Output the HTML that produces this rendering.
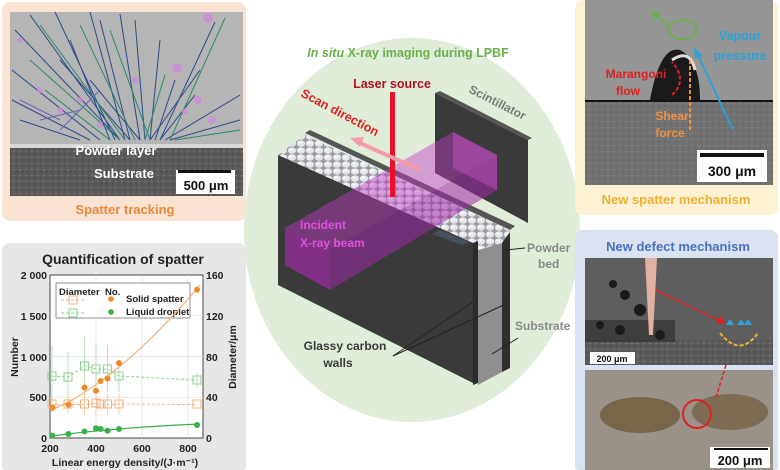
<!DOCTYPE html>
<html><head><meta charset="utf-8"><style>
html,body{margin:0;padding:0;background:#fff;}
svg{display:block;font-family:"Liberation Sans",Arial,sans-serif;}
</style></head><body>
<svg width="780" height="470" viewBox="0 0 780 470" xmlns="http://www.w3.org/2000/svg">
<defs>
<pattern id="pw" width="9" height="7" patternUnits="userSpaceOnUse">
<rect width="9" height="7" fill="#9a9aa0"/>
<ellipse cx="4" cy="3.5" rx="4.2" ry="3.2" fill="#e4e6ea"/>
<ellipse cx="3" cy="2.5" rx="2" ry="1.3" fill="#f6f7f9"/>
</pattern>
<pattern id="noise" width="6" height="6" patternUnits="userSpaceOnUse">
<rect width="6" height="6" fill="#5a5a5a"/>
<rect x="1" y="1" width="2" height="1" fill="#777"/><rect x="4" y="3" width="1" height="2" fill="#444"/>
</pattern>
</defs>
<ellipse cx="412" cy="230" rx="168" ry="192" fill="#e0eed9"/>
<text x="408" y="57" text-anchor="middle" font-size="12.5" font-weight="bold" fill="#6ab04c"><tspan font-style="italic">In situ</tspan> X-ray imaging during LPBF</text>

<polygon points="435,93 528,140 528,223 435,173" fill="#3a3a3a"/>
<polygon points="435,93 440,91 532,138 528,140" fill="#555"/>
<text x="468" y="92" font-size="12" font-weight="bold" fill="#7a7a7a" transform="rotate(27 468 92)">Scintillator</text>

<polygon points="305,133 310,130 515,226 510,230" fill="#555"/>
<polygon points="305,135 510,230 510,245 473,245 278,155" fill="url(#pw)"/>
<polygon points="278,155 473,243 473,383 278,285" fill="#3a3a3a"/>
<polygon points="473,243 478,241 478,383 473,385" fill="#2c2c2c"/>
<polygon points="478,250 502,243 502,372 478,385" fill="#8f8f8f"/>
<polygon points="478,250 502,243 504,228 480,236" fill="url(#pw)"/>
<polygon points="502,243 510,232 510,368 502,372" fill="#2e2e2e"/>

<polygon points="285,228 453,132 497,155 330,250" fill="#c23cc8" opacity="0.45"/>
<polygon points="285,228 330,250 330,290 285,265" fill="#b02ab8" opacity="0.6"/>
<polygon points="330,250 497,155 497,190 330,290" fill="#a02aa8" opacity="0.55"/>
<polygon points="453,132 497,155 497,190 453,168" fill="#c050c0" opacity="0.5"/>
<polygon points="440,230 470,242 462,245 432,234" fill="#4a5a6a" opacity="0.7"/>

<rect x="390" y="92" width="5" height="105" fill="#e8102a"/>
<line x1="420" y1="170" x2="360" y2="143" stroke="#f59aa8" stroke-width="4"/>
<polygon points="350,138 364,137 360,147" fill="#f59aa8"/>
<text x="392" y="88" text-anchor="middle" font-size="12.5" font-weight="bold" fill="#b01020">Laser source</text>
<text x="300" y="96" font-size="12.5" font-weight="bold" fill="#e02020" transform="rotate(28 300 96)">Scan direction</text>
<text x="300" y="229" font-size="12" font-weight="bold" fill="#e050e0">Incident</text>
<text x="300" y="247" font-size="12" font-weight="bold" fill="#e050e0">X-ray beam</text>

<text x="527" y="252" font-size="12" font-weight="bold" fill="#888">Powder</text>
<text x="538" y="268" font-size="12" font-weight="bold" fill="#888">bed</text>
<line x1="505" y1="250" x2="525" y2="248" stroke="#222"/>
<text x="515" y="330" font-size="12" font-weight="bold" fill="#888">Substrate</text>
<line x1="492" y1="354" x2="518" y2="338" stroke="#222"/>
<text x="345" y="350" text-anchor="middle" font-size="12" font-weight="bold" fill="#3a3a3a">Glassy carbon</text>
<text x="338" y="367" text-anchor="middle" font-size="12" font-weight="bold" fill="#3a3a3a">walls</text>
<line x1="393" y1="356" x2="473" y2="302" stroke="#222"/>
<line x1="393" y1="356" x2="508" y2="303" stroke="#222"/>

<rect x="2" y="2" width="244" height="219" rx="8" fill="#fbe3d4"/>
<rect x="10" y="12" width="233" height="134" fill="#b5b5b5"/>
<rect x="10" y="144" width="233" height="52" fill="url(#noise)"/>
<rect x="10" y="144" width="233" height="4" fill="#d8d8d8"/>
<g stroke-width="1" fill="none">
<path d="M120 140 L15 30 M120 140 L30 15 M115 140 L55 12 M110 140 L70 40 M125 140 L90 12 M130 140 L100 20 M140 140 L120 14 M145 140 L135 20 M150 140 L160 40 M155 140 L175 80 M160 140 L215 22 M165 140 L240 95 M170 140 L240 120 M150 140 L200 70 M100 140 L12 70 M90 140 L12 100 M80 140 L20 120 M130 140 L60 60 M140 140 L90 80 M160 140 L195 95" stroke="#2b4a8a"/>
<path d="M125 140 L40 25 M135 140 L80 25 M150 140 L110 30 M170 140 L225 18 M175 140 L240 130 M145 140 L165 75 M120 140 L30 60 M110 140 L45 90" stroke="#2a8a6a"/>
<path d="M60 130 L100 90 M40 120 L80 110 M20 100 L60 120" stroke="#7060c0"/>
</g>
<g fill="#d08ad8" opacity="0.8">
<circle cx="208" cy="18" r="5"/><circle cx="177" cy="68" r="5"/><circle cx="198" cy="100" r="4"/><circle cx="212" cy="120" r="4"/><circle cx="135" cy="80" r="3"/><circle cx="60" cy="110" r="3"/><circle cx="80" cy="100" r="3"/><circle cx="40" cy="90" r="3"/><circle cx="100" cy="125" r="3"/><circle cx="20" cy="40" r="3"/><circle cx="185" cy="112" r="3"/>
</g>
<text x="116" y="155" text-anchor="middle" font-size="13" font-weight="bold" fill="#fff">Powder layer</text>
<text x="124" y="178" text-anchor="middle" font-size="13" font-weight="bold" fill="#fff">Substrate</text>
<rect x="176" y="170" width="59" height="24" fill="#fff"/>
<rect x="178" y="170" width="53" height="3" fill="#111"/>
<text x="206" y="190" text-anchor="middle" font-size="13" font-weight="bold" fill="#111">500 μm</text>
<text x="125" y="214" text-anchor="middle" font-size="13" font-weight="bold" fill="#e8883a">Spatter tracking</text>

<rect x="2" y="243" width="244" height="230" rx="8" fill="#e7e7e7"/>
<text x="123" y="264" text-anchor="middle" font-size="14" font-weight="bold" fill="#222">Quantification of spatter</text>
<rect x="50" y="275" width="153" height="163" fill="#fff" stroke="#444"/>
<g stroke="#ddd" stroke-width="0.7">
<line x1="96" y1="275" x2="96" y2="438"/><line x1="142" y1="275" x2="142" y2="438"/><line x1="188" y1="275" x2="188" y2="438"/>
<line x1="50" y1="397.2" x2="203" y2="397.2"/><line x1="50" y1="356.5" x2="203" y2="356.5"/><line x1="50" y1="315.7" x2="203" y2="315.7"/>
</g>
<g font-size="10.5" font-weight="bold" fill="#222">
<text x="47" y="279" text-anchor="end">2 000</text>
<text x="47" y="320" text-anchor="end">1 500</text>
<text x="47" y="361" text-anchor="end">1 000</text>
<text x="47" y="401" text-anchor="end">500</text>
<text x="47" y="442" text-anchor="end">0</text>
<text x="206" y="279">160</text><text x="206" y="320">120</text><text x="206" y="361">80</text><text x="206" y="401">40</text><text x="206" y="442">0</text>
<text x="50" y="452" text-anchor="middle">200</text><text x="96" y="452" text-anchor="middle">400</text><text x="142" y="452" text-anchor="middle">600</text><text x="188" y="452" text-anchor="middle">800</text>
<text x="125" y="466" text-anchor="middle">Linear energy density/(J·m⁻¹)</text>
<text transform="translate(18 357) rotate(-90)" text-anchor="middle">Number</text>
<text transform="translate(236 357) rotate(-90)" text-anchor="middle">Diameter/μm</text>
</g>
<rect x="56" y="283" width="134" height="35" fill="#fff" stroke="#777" stroke-width="0.8"/>
<g font-size="9.5" font-weight="bold" fill="#222">
<text x="59" y="295">Diameter</text><text x="105" y="295">No.</text>
<text x="126" y="302">Solid spatter</text><text x="126" y="315">Liquid droplet</text>
</g>
<g fill="none" stroke-width="1">
<line x1="61" y1="300" x2="85" y2="300" stroke="#f5b07a" stroke-dasharray="3 2"/><rect x="69" y="296" width="8" height="8" stroke="#f5b07a"/>
<line x1="61" y1="313" x2="85" y2="313" stroke="#8fd08f" stroke-dasharray="3 2"/><rect x="69" y="309" width="8" height="8" stroke="#8fd08f"/>
</g>
<circle cx="111" cy="299" r="2.8" fill="#ef8a2a"/><circle cx="111" cy="312" r="2.8" fill="#3ab04a"/>
<g stroke="#a8dca8" stroke-width="0.8">
<line x1="52" y1="345" x2="52" y2="405"/><line x1="68" y1="352" x2="68" y2="400"/><line x1="84.5" y1="336" x2="84.5" y2="395"/><line x1="96" y1="345" x2="96" y2="390"/><line x1="107.5" y1="345" x2="107.5" y2="392"/><line x1="119" y1="360" x2="119" y2="392"/><line x1="197" y1="373" x2="197" y2="388"/>
</g>
<g stroke="#f8c8a0" stroke-width="0.8">
<line x1="52" y1="397" x2="52" y2="412"/><line x1="68" y1="396" x2="68" y2="414"/><line x1="84.5" y1="394" x2="84.5" y2="415"/><line x1="96" y1="392" x2="96" y2="416"/><line x1="107.5" y1="394" x2="107.5" y2="415"/><line x1="119" y1="393" x2="119" y2="414"/>
</g>
<polyline points="52,376 68,377 84.5,366 96,369 107.5,369 119,376 197,380" fill="none" stroke="#8fd08f" stroke-dasharray="3 2"/>
<polyline points="52,404.6 68,404.6 84.5,404.6 96,403.5 100.6,404.6 107.5,404.6 119,404 197,404.6" fill="none" stroke="#f5b07a" stroke-dasharray="3 2"/>
<g fill="none" stroke="#8fd08f"><rect x="48" y="372" width="8" height="8"/><rect x="64" y="373" width="8" height="8"/><rect x="80.5" y="362" width="8" height="8"/><rect x="92" y="365" width="8" height="8"/><rect x="103.5" y="365" width="8" height="8"/><rect x="115" y="372" width="8" height="8"/><rect x="193" y="376" width="8" height="8"/></g>
<g fill="none" stroke="#f5b07a"><rect x="48" y="400" width="8" height="8"/><rect x="64" y="400" width="8" height="8"/><rect x="80.5" y="400" width="8" height="8"/><rect x="92" y="399" width="8" height="8"/><rect x="97" y="400" width="8" height="8"/><rect x="103.5" y="400" width="8" height="8"/><rect x="115" y="400" width="8" height="8"/><rect x="193" y="400" width="8" height="8"/></g>
<path d="M52 410 Q120 380 200 285" fill="none" stroke="#f5b07a" stroke-width="1.2"/>
<path d="M52 436 Q110 428 200 424" fill="none" stroke="#3ab04a" stroke-width="1.2"/>
<g fill="#ef8a2a"><circle cx="52.3" cy="407.8" r="3"/><circle cx="68.4" cy="404.6" r="3"/><circle cx="84.5" cy="387.5" r="3"/><circle cx="96" cy="390.7" r="3"/><circle cx="100.6" cy="381" r="3"/><circle cx="107.5" cy="378.5" r="3"/><circle cx="119" cy="363" r="3"/><circle cx="197" cy="289.7" r="3"/></g>
<g fill="#3ab04a"><circle cx="52.3" cy="435.5" r="3"/><circle cx="68.4" cy="434" r="3"/><circle cx="84.5" cy="431.5" r="3"/><circle cx="96" cy="428.2" r="3"/><circle cx="100.6" cy="429" r="3"/><circle cx="107.5" cy="430.7" r="3"/><circle cx="119" cy="429" r="3"/><circle cx="197" cy="425" r="3"/></g>

<rect x="575" y="0" width="203" height="215" rx="8" fill="#fdf2d4"/>
<rect x="585" y="0" width="188" height="185" fill="#959595"/>
<rect x="585" y="102" width="188" height="83" fill="url(#noise)" opacity="0.6"/>
<rect x="585" y="100" width="188" height="2" fill="#111"/>
<path d="M650 100 Q660 45 680 50 Q700 60 700 100 Z" fill="#1a1a1a"/>
<path d="M672 60 Q690 48 695 70" stroke="#ddd" stroke-width="3" fill="none"/>
<path d="M668 32 Q668 20 685 20 Q700 22 695 35 Q680 45 668 32 Z" fill="none" stroke="#6ab04c" stroke-width="2"/>
<line x1="668" y1="25" x2="655" y2="15" stroke="#6ab04c" stroke-width="2"/>
<polygon points="650,10 660,13 655,20" fill="#6ab04c"/>
<line x1="733" y1="130" x2="698" y2="55" stroke="#2aa0d8" stroke-width="2"/>
<polygon points="694,47 703,56 695,58" fill="#2aa0d8"/>
<line x1="690" y1="130" x2="690" y2="60" stroke="#f09040" stroke-width="2" stroke-dasharray="4 2"/>
<path d="M672 95 Q688 80 672 62" stroke="#e02020" stroke-width="2" stroke-dasharray="4 2" fill="none"/>
<text x="740" y="40" text-anchor="middle" font-size="12.5" font-weight="bold" fill="#2aa0d8">Vapour</text>
<text x="740" y="60" text-anchor="middle" font-size="12.5" font-weight="bold" fill="#2aa0d8">pressure</text>
<text x="636" y="78" text-anchor="middle" font-size="12" font-weight="bold" fill="#e02020">Marangoni</text>
<text x="628" y="95" text-anchor="middle" font-size="12" font-weight="bold" fill="#e02020">flow</text>
<text x="672" y="120" text-anchor="middle" font-size="12" font-weight="bold" fill="#f09040">Shear</text>
<text x="670" y="137" text-anchor="middle" font-size="12" font-weight="bold" fill="#f09040">force</text>
<rect x="697" y="150" width="70" height="32" fill="#fff"/>
<rect x="700" y="153" width="64" height="4" fill="#111"/>
<text x="732" y="176" text-anchor="middle" font-size="14" font-weight="bold" fill="#111">300 μm</text>
<text x="676" y="204" text-anchor="middle" font-size="13" font-weight="bold" fill="#f2b030">New spatter mechanism</text>

<rect x="575" y="230" width="203" height="243" rx="8" fill="#dae2f2"/>
<text x="678" y="251" text-anchor="middle" font-size="13" font-weight="bold" fill="#4a70c0">New defect mechanism</text>
<rect x="585" y="258" width="188" height="107" fill="#5e5e5e"/>
<rect x="585" y="340" width="188" height="25" fill="url(#noise)"/>
<rect x="585" y="320" width="90" height="22" fill="#2a2a2a" opacity="0.6"/>
<g fill="#1a1a1a"><circle cx="613" cy="284" r="4"/><circle cx="625" cy="295" r="5"/><circle cx="640" cy="310" r="6"/><circle cx="600" cy="325" r="4"/><circle cx="620" cy="330" r="5"/><circle cx="660" cy="335" r="5"/></g>
<polygon points="645,258 657,258 653,335 649,335" fill="#e0b0a0"/>
<line x1="656" y1="290" x2="722" y2="322" stroke="#e02020" stroke-width="1.5"/>
<polygon points="726,324 716,323 720,316" fill="#e02020"/>
<path d="M720 333 Q740 358 758 333" fill="none" stroke="#f0b030" stroke-width="2" stroke-dasharray="4 2"/>
<g fill="#30a0e0"><path d="M726 325 l4 -6 l4 6 z"/><path d="M737 325 l4 -6 l4 6 z"/><path d="M744 325 l4 -6 l4 6 z"/></g>
<rect x="590" y="352" width="45" height="12" fill="#fff"/>
<text x="612" y="362" text-anchor="middle" font-size="9" font-weight="bold" fill="#111">200 μm</text>
<rect x="585" y="370" width="188" height="100" fill="#9a9288"/>
<ellipse cx="640" cy="415" rx="40" ry="18" fill="#6a5230" opacity="0.7"/>
<ellipse cx="730" cy="412" rx="38" ry="18" fill="#6a5230" opacity="0.6"/>
<line x1="726" y1="365" x2="716" y2="397" stroke="#e02020" stroke-width="1.5" stroke-dasharray="4 2"/>
<circle cx="697" cy="414" r="14" fill="none" stroke="#e02020" stroke-width="2"/>
<rect x="710" y="447" width="60" height="21" fill="#fff"/>
<rect x="714" y="448" width="54" height="2" fill="#111"/>
<text x="740" y="465" text-anchor="middle" font-size="13" font-weight="bold" fill="#111">200 μm</text>
</svg>
</body></html>
